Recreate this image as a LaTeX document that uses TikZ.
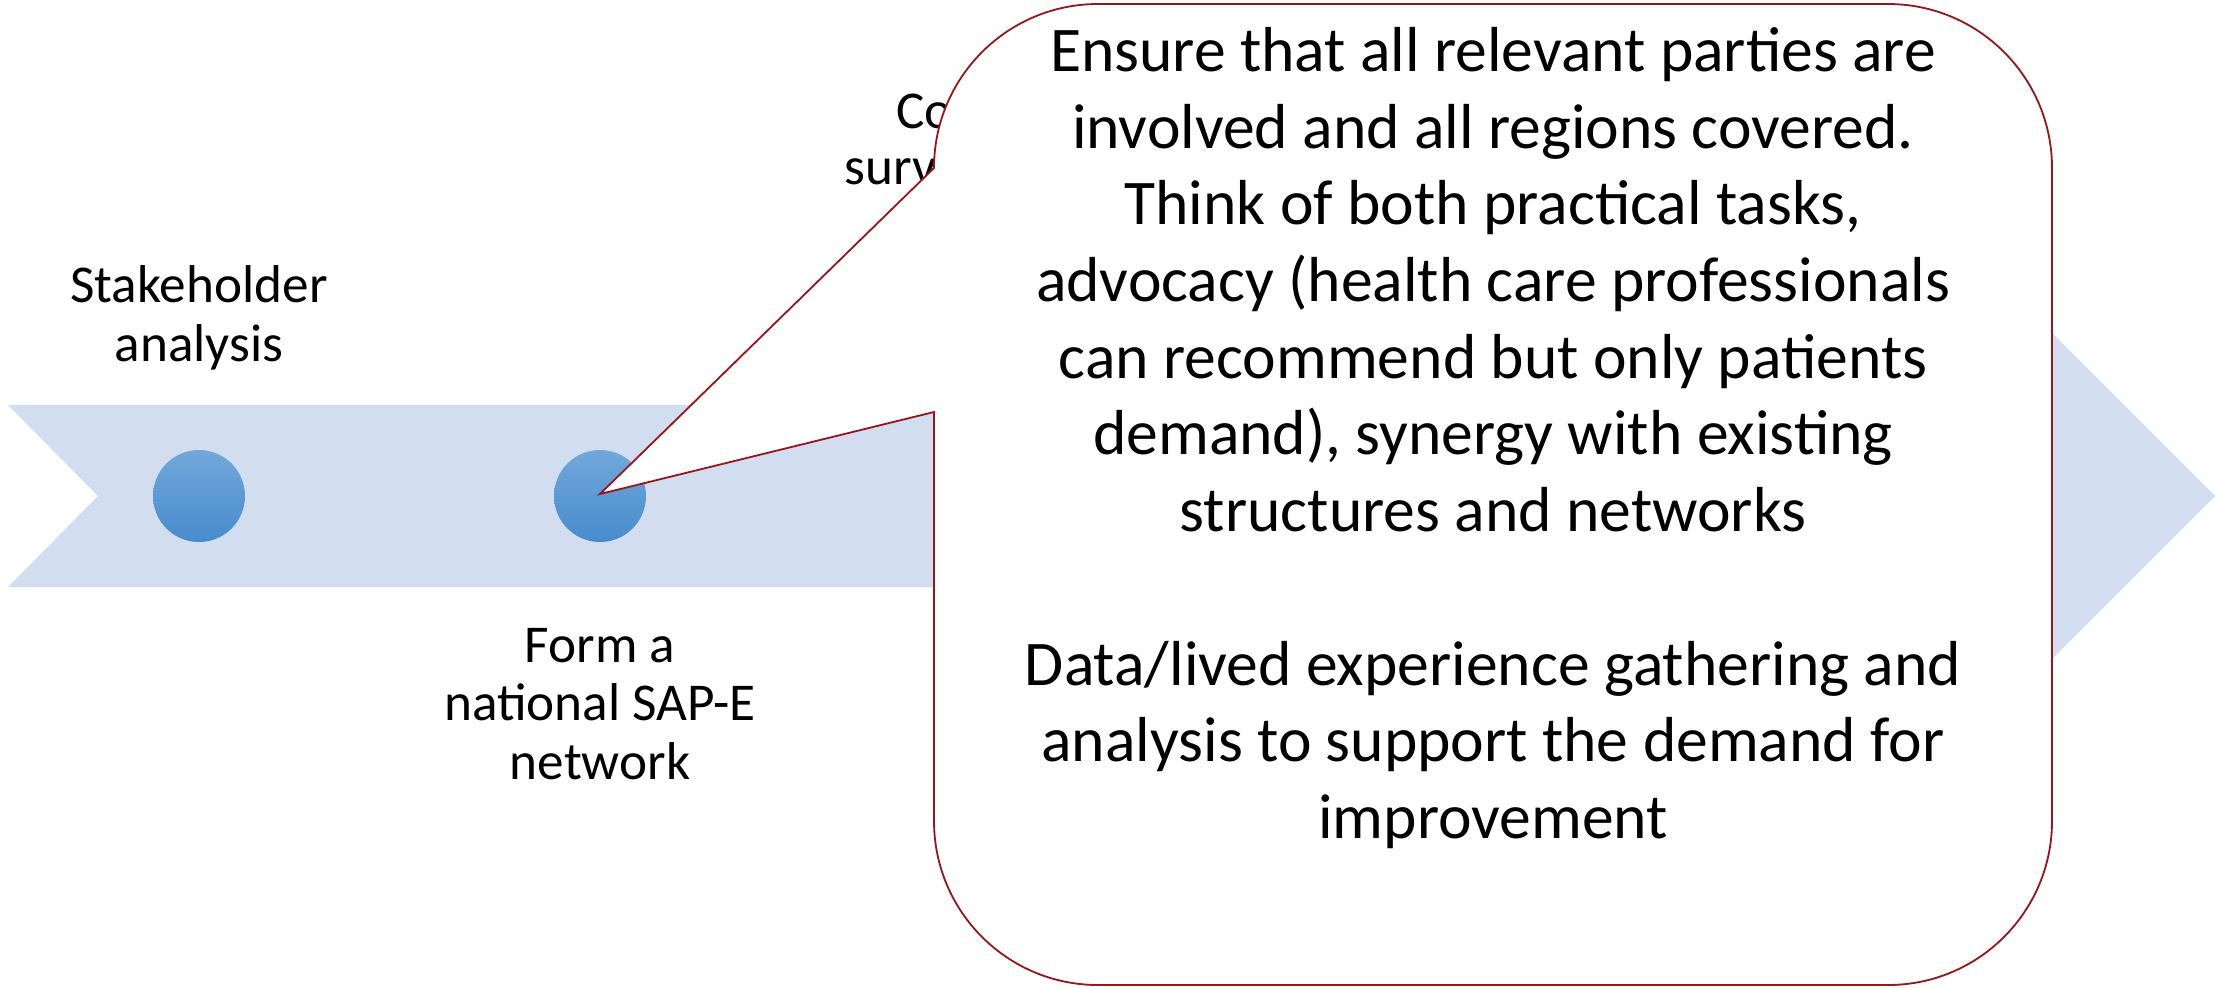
\documentclass[tikz,border=0pt]{standalone}
\usepackage{fontspec}
\setmainfont{Carlito}
\definecolor{bandblue}{RGB}{210,222,239}
\definecolor{dotlight}{RGB}{114,168,220}
\definecolor{dotdark}{RGB}{72,139,204}
\definecolor{calloutred}{RGB}{150,22,26}
\tikzset{
  dot/.style={circle,minimum size=46pt,inner sep=0pt,top color=dotlight,bottom color=dotdark,draw=none},
  smalllabel/.style={align=center,font=\fontsize{26.6}{29.2}\selectfont,inner sep=0pt},
  boxtext/.style={align=center,font=\fontsize{31.8}{38.35}\selectfont,inner sep=0pt},
  callout/.style={draw=calloutred,line width=0.9pt,fill=white,line join=miter}
}
\begin{document}
\begin{tikzpicture}[x=0.5pt,y=-0.5pt]
\useasboundingbox (0,0) rectangle (2215,987);
% band arrow
\fill[bandblue] (8,405) -- (1900,405) -- (1900,181) -- (2215,496) -- (1900,811) -- (1900,587) -- (8,587) -- (98,496) -- cycle;
% dots
\node[dot] (c1) at (199,496) {};
\node[dot] (c2) at (600,496) {};
% labels
\node[smalllabel] (l1) at (199,318) {Stakeholder\\analysis};
\node[smalllabel] (l2) at (600,704) {Form a\\national SAP-E\\network};
\node[smalllabel,anchor=west] (l3a) at (896,111) {Co};
\node[smalllabel,anchor=west] (l3b) at (844,172) {surv};
% callout
\coordinate (tip) at (600,494);
\draw[callout] (tip) -- (934,412) -- (934,821)
  arc[start angle=180,end angle=90,radius=164] -- (1888,985)
  arc[start angle=90,end angle=0,radius=164] -- (2052,168)
  arc[start angle=0,end angle=-90,radius=164] -- (1098,4)
  arc[start angle=-90,end angle=-180,radius=164] -- cycle;
\node[boxtext] (txt) at (1493,438) {Ensure that all relevant parties are\\involved and all regions covered.\\Think of both practical tasks,\\advocacy (health care professionals\\can recommend but only patients\\demand), synergy with existing\\structures and networks\\[38.35pt]Data/lived experience gathering and\\analysis to support the demand for\\improvement};
\end{tikzpicture}
\end{document}
